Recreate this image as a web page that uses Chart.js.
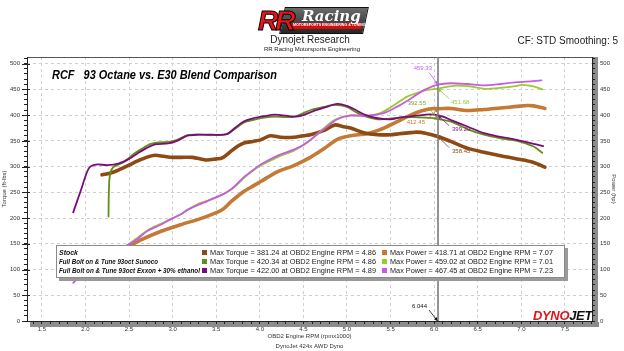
<!DOCTYPE html>
<html>
<head>
<meta charset="utf-8">
<script src="https://cdn.jsdelivr.net/npm/chart.js@4.4.1/dist/chart.umd.min.js"></script>
<style>
  body { margin: 0; background: #fff; font-family: "Liberation Sans", Arial, sans-serif; }
  #wrap { position: relative; width: 624px; height: 351px; overflow: hidden; }
  canvas { position: absolute; left: 0; top: 0; }
  .t { position: absolute; white-space: pre; line-height: 1; color: #222; }
  #legend { position: absolute; left: 56px; top: 245px; width: 507px; height: 31px; background: #fff;
            border: 1px solid #8a8a8a; box-shadow: 3px 3px 0 #9a9a9a; }
  #legend .t { font-size: 7.5px; }
  #legend .nm { font-weight: bold; font-style: italic; font-size: 7px; color: #111; }
  #legend .sq { position: absolute; width: 5px; height: 5px; }
</style>
</head>
<body>
<div id="wrap">
  <canvas id="dyno" width="624" height="351"></canvas>

  <!-- header -->
  <div id="logo" style="position:absolute;left:258px;top:4px;width:110px;height:30px;">
    <div style="position:absolute;left:24px;top:3px;width:82px;height:25px;background:linear-gradient(#6a6a6a,#262626);transform:skewX(-12deg);border:1px solid #111;"></div>
    <div style="position:absolute;left:32px;top:19px;width:72px;height:6px;background:#d01010;transform:skewX(-12deg);"></div>
    <div class="t" style="left:35px;top:20px;font-size:3.6px;color:#fff;font-weight:bold;">MOTORSPORTS ENGINEERING &amp; TUNING SINCE 2001</div>
    <div class="t" style="left:44px;top:3px;font:italic bold 15px 'DejaVu Serif',serif;color:#fff;">Racing</div>
    <div class="t" style="left:0;top:1px;font:italic 900 28px 'Liberation Sans';color:#e8141b;-webkit-text-stroke:1px #000;letter-spacing:-3px;">RR</div>
  </div>
  <div class="t" style="left:210px;top:35px;width:200px;text-align:center;font-size:10px;">Dynojet Research</div>
  <div class="t" style="left:212px;top:46px;width:200px;text-align:center;font-size:6px;">RR Racing Motorsports Engineering</div>
  <div class="t" style="right:6px;top:36px;font-size:10px;">CF: STD Smoothing: 5</div>

  <div id="plotTitle" class="t" style="left:52px;top:68px;font-size:13px;font-weight:bold;font-style:italic;color:#000;">RCF   93 Octane vs. E30 Blend Comparison</div>

  <div id="legend"></div>

  <div id="djLogo" class="t" style="left:533px;top:309px;font:italic bold 12px 'Liberation Sans';letter-spacing:-0.3px;"><span style="color:#e3131b;">DYNO</span><span style="color:#111;">JET</span></div>
</div>

<script>
// ---- data (rpm x1000, value) ----
const stockTorque = [[2.19,284],[2.3,288],[2.4,295],[2.5,303],[2.6,311],[2.7,318],[2.8,322],[2.9,320],[3.0,318],[3.1,318],
  [3.23,318],[3.38,313],[3.5,315],[3.57,317],[3.67,330],[3.75,340],[3.82,346],[3.92,349],[4.01,352],[4.12,360],
  [4.24,357],[4.39,357],[4.5,360],[4.58,362],[4.73,370],[4.86,381],[4.95,378],[5.04,375],[5.19,366],[5.35,362],
  [5.5,362],[5.6,364],[5.73,366],[5.8,367],[5.9,365],[6.044,358.5],[6.19,349],[6.38,336],[6.57,328],[6.76,321],
  [6.95,315],[7.14,308],[7.27,299]];
const stockPower = [[2.19,119],[2.3,126],[2.4,135],[2.48,143],[2.63,157],[2.86,174],[3.09,187],[3.32,199],[3.51,211],
  [3.59,219],[3.67,232],[3.75,243],[3.82,252],[3.92,262],[4.01,271],[4.2,290],[4.39,302],[4.58,318],[4.73,334],
  [4.89,353],[5.04,360],[5.23,364],[5.38,372],[5.57,387],[5.73,400],[5.85,408],[5.99,413],[6.044,412.5],[6.19,413],
  [6.38,409],[6.57,411],[6.76,414],[6.95,417],[7.07,418.7],[7.14,418],[7.27,413]];
const sunocoTorque = [[2.265,203],[2.268,245],[2.275,275],[2.29,290],[2.32,299],[2.38,304],[2.45,310],[2.55,324],[2.65,335],
  [2.75,344],[2.85,347],[2.95,348],[3.05,352],[3.17,361],[3.3,362],[3.45,361],[3.62,363],[3.72,374],[3.82,386],
  [3.93,391],[4.05,395],[4.17,397],[4.3,396],[4.4,397],[4.5,404],[4.6,411],[4.73,416],[4.86,420],[5.0,416],
  [5.1,406],[5.2,398],[5.35,392],[5.5,393],[5.6,395],[5.75,396],[5.9,395],[6.044,392.5],[6.2,387],[6.38,373],
  [6.57,362],[6.76,355],[6.95,350],[7.14,339],[7.24,327]];
const sunocoPower = [[2.265,88],[2.3,128],[2.38,138],[2.46,145],[2.6,162],[2.71,176],[2.85,188],[2.98,198],[3.1,208],
  [3.2,219],[3.3,228],[3.4,234],[3.55,244],[3.63,251],[3.7,259],[3.82,278],[3.92,292],[4.01,302],[4.2,318],
  [4.39,331],[4.5,342],[4.6,354],[4.73,374],[4.86,391],[5.04,400],[5.23,398],[5.38,404],[5.5,415],[5.69,436],
  [5.8,443],[5.92,449],[6.044,451.7],[6.22,457],[6.41,456],[6.6,451],[6.76,453],[6.95,457],[7.01,459],[7.14,456],[7.24,450]];
const e30Torque = [[1.86,211],[1.95,255],[2.04,297],[2.12,304],[2.25,303],[2.38,306],[2.5,315],[2.6,326],[2.7,336],
  [2.8,343],[2.95,345],[3.05,350],[3.17,360],[3.3,362],[3.45,362],[3.62,363],[3.72,376],[3.82,388],[3.93,394],
  [4.05,398],[4.17,401],[4.3,399],[4.4,397],[4.5,400],[4.6,407],[4.73,414],[4.89,422],[5.0,418],[5.1,410],
  [5.2,401],[5.35,394],[5.5,392],[5.6,395],[5.75,398],[5.9,401],[6.0,401],[6.1,397],[6.2,390],[6.38,378],
  [6.57,365],[6.76,358],[6.95,352],[7.14,344],[7.25,340]];
const e30Power = [[1.86,74],[1.97,93],[2.1,121],[2.25,130],[2.4,139],[2.46,145],[2.6,160],[2.71,175],[2.85,186],
  [2.98,198],[3.1,208],[3.17,216],[3.3,226],[3.4,233],[3.55,244],[3.63,251],[3.7,260],[3.82,280],[3.92,293],
  [4.01,304],[4.2,321],[4.39,333],[4.5,342],[4.58,352],[4.73,372],[4.89,392],[5.04,399],[5.23,399],[5.42,404],
  [5.57,416],[5.73,432],[5.8,440],[5.9,450],[6.044,459.3],[6.19,462],[6.38,460.5],[6.57,458],[6.76,460.5],
  [6.95,464],[7.14,466],[7.23,467.5]];

const xTickLabels = ['1.5','2.0','2.5','3.0','3.5','4.0','4.5','5.0','5.5','6.0','6.5','7.0','7.5'];
const yTickLabels = ['0','50','100','150','200','250','300','350','400','450','500'];

// legend rows
const runNames = ['Stock', 'Full Bolt on & Tune 93oct Sunoco', 'Full Bolt on & Tune 93oct Exxon + 30% ethanol'];
const maxTorque = ['381.24', '420.34', '422.00'];
const maxTorqueRpm = ['4.86', '4.86', '4.89'];
const maxPower = ['418.71', '459.02', '467.45'];
const maxPowerRpm = ['7.07', '7.01', '7.23'];

// cursor readout
const cursorRpm = 6.044;
const cursorValues = [459.33, 392.55, 451.68, 412.45, 399.20, 358.45];

const torqueColors = ['#8e4a14', '#5f8f14', '#7d0a7d'];
const powerColors = ['#c27a34', '#99cc2e', '#c85ce0'];

const FONT = 'Liberation Sans';
const pts = arr => arr.map(p => ({ x: p[0], y: p[1] }));

// legend html
const legendEl = document.getElementById('legend');
runNames.forEach((name, i) => {
  const top = 2.5 + i * 9;
  legendEl.insertAdjacentHTML('beforeend',
    `<div class="t nm" style="left:2px;top:${top + 0.5}px">${name.replace('&', '&amp;')}</div>` +
    `<div class="sq" style="left:145px;top:${top + 1}px;background:${torqueColors[i]}"></div>` +
    `<div class="t fitT" style="left:153px;top:${top}px">Max Torque = ${maxTorque[i]} at OBD2 Engine RPM = ${maxTorqueRpm[i]}</div>` +
    `<div class="sq" style="left:325px;top:${top + 1}px;background:${powerColors[i]}"></div>` +
    `<div class="t fitP" style="left:333px;top:${top}px">Max Power = ${maxPower[i]} at OBD2 Engine RPM = ${maxPowerRpm[i]}</div>`);
});

function fit(el, w) {
  const cw = el.getBoundingClientRect().width;
  el.style.transformOrigin = '0 0';
  el.style.transform = 'scaleX(' + (w / cw) + ')';
}
fit(document.getElementById('plotTitle'), 225);
fit(document.getElementById('djLogo'), 59);
document.querySelectorAll('.fitT').forEach(el => fit(el, 166));
document.querySelectorAll('.fitP').forEach(el => fit(el, 163));
const nmW = [19, 99, 141];
document.querySelectorAll('#legend .nm').forEach((el, i) => fit(el, nmW[i]));

// ticks every 0.1 rpm / 10 units, labels only on the major ones
const xMinor = [];
for (let v = 14; v <= 78; v++) xMinor.push(v / 10);
const yMinor = [];
for (let v = 0; v <= 510; v += 10) yMinor.push(v);
const isXMajor = v => xTickLabels.includes(Number(v).toFixed(1));
const isYMajor = v => yTickLabels.includes(String(v));

const axisFont = { family: FONT, size: 6 };

// cursor annotations: [value, axis, dx, dy, align, arrow start dx, dy, colour]
const cursorNotes = [
  [cursorValues[0], 'y1', -6, -16, 'right', -9, -12, '#c85ce0'],
  [cursorValues[1], 'y',  -12, -16, 'right', -10, -12, '#7fa72e'],
  [cursorValues[2], 'y1', 13, 14, 'left', 11, 10, '#8fc83a'],
  [cursorValues[3], 'y1', -13, 14, 'right', -10, 10, '#c27a34'],
  [cursorValues[4], 'y',  14, 14, 'left', 11, 10, '#8a1a8a'],
  [cursorValues[5], 'y',  14, 15, 'left', 11, 11, '#8e4a14']
];

function arrow(ctx, x0, y0, x1, y1, color) {
  ctx.strokeStyle = color; ctx.fillStyle = color; ctx.lineWidth = 0.8;
  ctx.beginPath(); ctx.moveTo(x0, y0); ctx.lineTo(x1, y1); ctx.stroke();
  const a = Math.atan2(y1 - y0, x1 - x0), L = 4;
  ctx.beginPath();
  ctx.moveTo(x1, y1);
  ctx.lineTo(x1 - L * Math.cos(a - 0.45), y1 - L * Math.sin(a - 0.45));
  ctx.lineTo(x1 - L * Math.cos(a + 0.45), y1 - L * Math.sin(a + 0.45));
  ctx.closePath(); ctx.fill();
}

const decor = {
  id: 'decor',
  beforeDraw(chart) {
    const { ctx, chartArea: a } = chart;
    ctx.save();
    ctx.fillStyle = '#8c8c8c';
    ctx.fillRect(a.right + 1, a.top, 5, a.bottom - a.top + 6);
    ctx.fillRect(a.left + 3, a.bottom + 1, a.right - a.left + 4, 5);
    ctx.restore();
  },
  afterDatasetsDraw(chart) {
    const { ctx, chartArea: a, scales } = chart;
    ctx.save();
    // frame
    ctx.lineWidth = 1;
    ctx.strokeStyle = '#555';
    ctx.beginPath(); ctx.moveTo(a.left, a.top + 0.5); ctx.lineTo(a.right, a.top + 0.5); ctx.stroke();
    ctx.strokeStyle = '#222';
    ctx.beginPath();
    ctx.moveTo(a.left + 0.5, a.top); ctx.lineTo(a.left + 0.5, a.bottom);
    ctx.moveTo(a.left, a.bottom + 0.5); ctx.lineTo(a.right, a.bottom + 0.5);
    ctx.moveTo(a.right + 0.5, a.top); ctx.lineTo(a.right + 0.5, a.bottom);
    ctx.stroke();
    // longer marks on the major ticks of the left axis
    ctx.beginPath();
    yMinor.filter(isYMajor).forEach(v => {
      const y = Math.round(scales.y.getPixelForValue(v)) + 0.5;
      ctx.moveTo(a.left - 5, y); ctx.lineTo(a.left + 3, y);
    });
    ctx.stroke();
    // cursor
    const cx = scales.x.getPixelForValue(cursorRpm);
    ctx.strokeStyle = '#7a7a7a'; ctx.lineWidth = 1.6;
    ctx.beginPath(); ctx.moveTo(cx, a.top); ctx.lineTo(cx, a.bottom); ctx.stroke();
    ctx.font = '6px ' + FONT; ctx.textBaseline = 'middle';
    cursorNotes.forEach(n => {
      const py = scales[n[1]].getPixelForValue(n[0]);
      ctx.fillStyle = n[7]; ctx.textAlign = n[4];
      ctx.fillText(n[0].toFixed(2), cx + n[2], py + n[3]);
      arrow(ctx, cx + n[5], py + n[6], cx, py, n[7]);
    });
    ctx.fillStyle = '#111'; ctx.textAlign = 'right';
    ctx.fillText(cursorRpm.toFixed(3), cx - 11, a.bottom - 15);
    arrow(ctx, cx - 9, a.bottom - 11, cx - 0.5, a.bottom, '#111');
    ctx.restore();
  }
};

const lineSet = (label, data, color, width, axis) => ({
  label, data: pts(data), borderColor: color, borderWidth: width, yAxisID: axis,
  pointRadius: 0, fill: false, tension: 0.3, borderCapStyle: 'round', borderJoinStyle: 'round'
});

new Chart(document.getElementById('dyno'), {
  type: 'line',
  data: {
    datasets: [
      lineSet('E30 torque', e30Torque, torqueColors[2], 1.8, 'y'),
      lineSet('E30 power', e30Power, powerColors[2], 1.8, 'y1'),
      lineSet('Sunoco torque', sunocoTorque, torqueColors[1], 1.8, 'y'),
      lineSet('Sunoco power', sunocoPower, powerColors[1], 1.8, 'y1'),
      lineSet('Stock torque', stockTorque, torqueColors[0], 3.6, 'y'),
      lineSet('Stock power', stockPower, powerColors[0], 3.6, 'y1')
    ]
  },
  options: {
    responsive: false,
    animation: false,
    events: [],
    layout: { padding: { top: 57, left: 0, right: 0, bottom: 0 } },
    plugins: { legend: { display: false }, tooltip: { enabled: false } },
    scales: {
      x: {
        type: 'linear', min: 1.33, max: 7.81,
        afterBuildTicks: s => { s.ticks = xMinor.map(v => ({ value: v })); },
        afterFit: s => { s.height = 30; },
        ticks: { autoSkip: false, maxRotation: 0, font: axisFont, color: '#333', padding: 2,
                 callback: v => isXMajor(v) ? Number(v).toFixed(1) : '' },
        grid: { color: c => (c.tick && isXMajor(c.tick.value)) ? '#cfcfcf' : 'rgba(0,0,0,0)',
                tickColor: '#222', tickLength: 3, lineWidth: 1 },
        border: { display: false, dash: [3, 3] },
        title: { display: true, text: ['OBD2 Engine RPM (rpmx1000)', 'DynoJet 424x AWD Dyno'],
                 font: { family: FONT, size: 6, lineHeight: 1.67 }, color: '#333', padding: { top: 0, bottom: 0 } }
      },
      y: {
        position: 'left', min: 0, max: 513,
        afterBuildTicks: s => { s.ticks = yMinor.map(v => ({ value: v })); },
        afterFit: s => { s.width = 27; },
        ticks: { autoSkip: false, font: axisFont, color: '#333', padding: 4,
                 callback: v => isYMajor(v) ? String(v) : '' },
        grid: { color: c => (c.tick && isYMajor(c.tick.value) && c.tick.value > 0) ? '#cfcfcf' : 'rgba(0,0,0,0)',
                tickColor: '#222', tickLength: 3 },
        border: { display: false, dash: [3, 3] },
        title: { display: true, text: 'Torque (ft-lbs)', font: { family: FONT, size: 6 }, color: '#333',
                 padding: { top: 1, bottom: 0 } }
      },
      y1: {
        position: 'right', min: 0, max: 513,
        afterBuildTicks: s => { s.ticks = yMinor.map(v => ({ value: v })); },
        afterFit: s => { s.width = 32; },
        ticks: { autoSkip: false, font: axisFont, color: '#333', padding: 5,
                 callback: v => isYMajor(v) ? String(v) : '' },
        grid: { drawOnChartArea: false, tickColor: '#222', tickLength: 3 },
        border: { display: false },
        title: { display: true, text: 'Power (hp)', font: { family: FONT, size: 6 }, color: '#333',
                 padding: { top: 7, bottom: 0 } }
      }
    }
  },
  plugins: [decor]
});
</script>
</body>
</html>
